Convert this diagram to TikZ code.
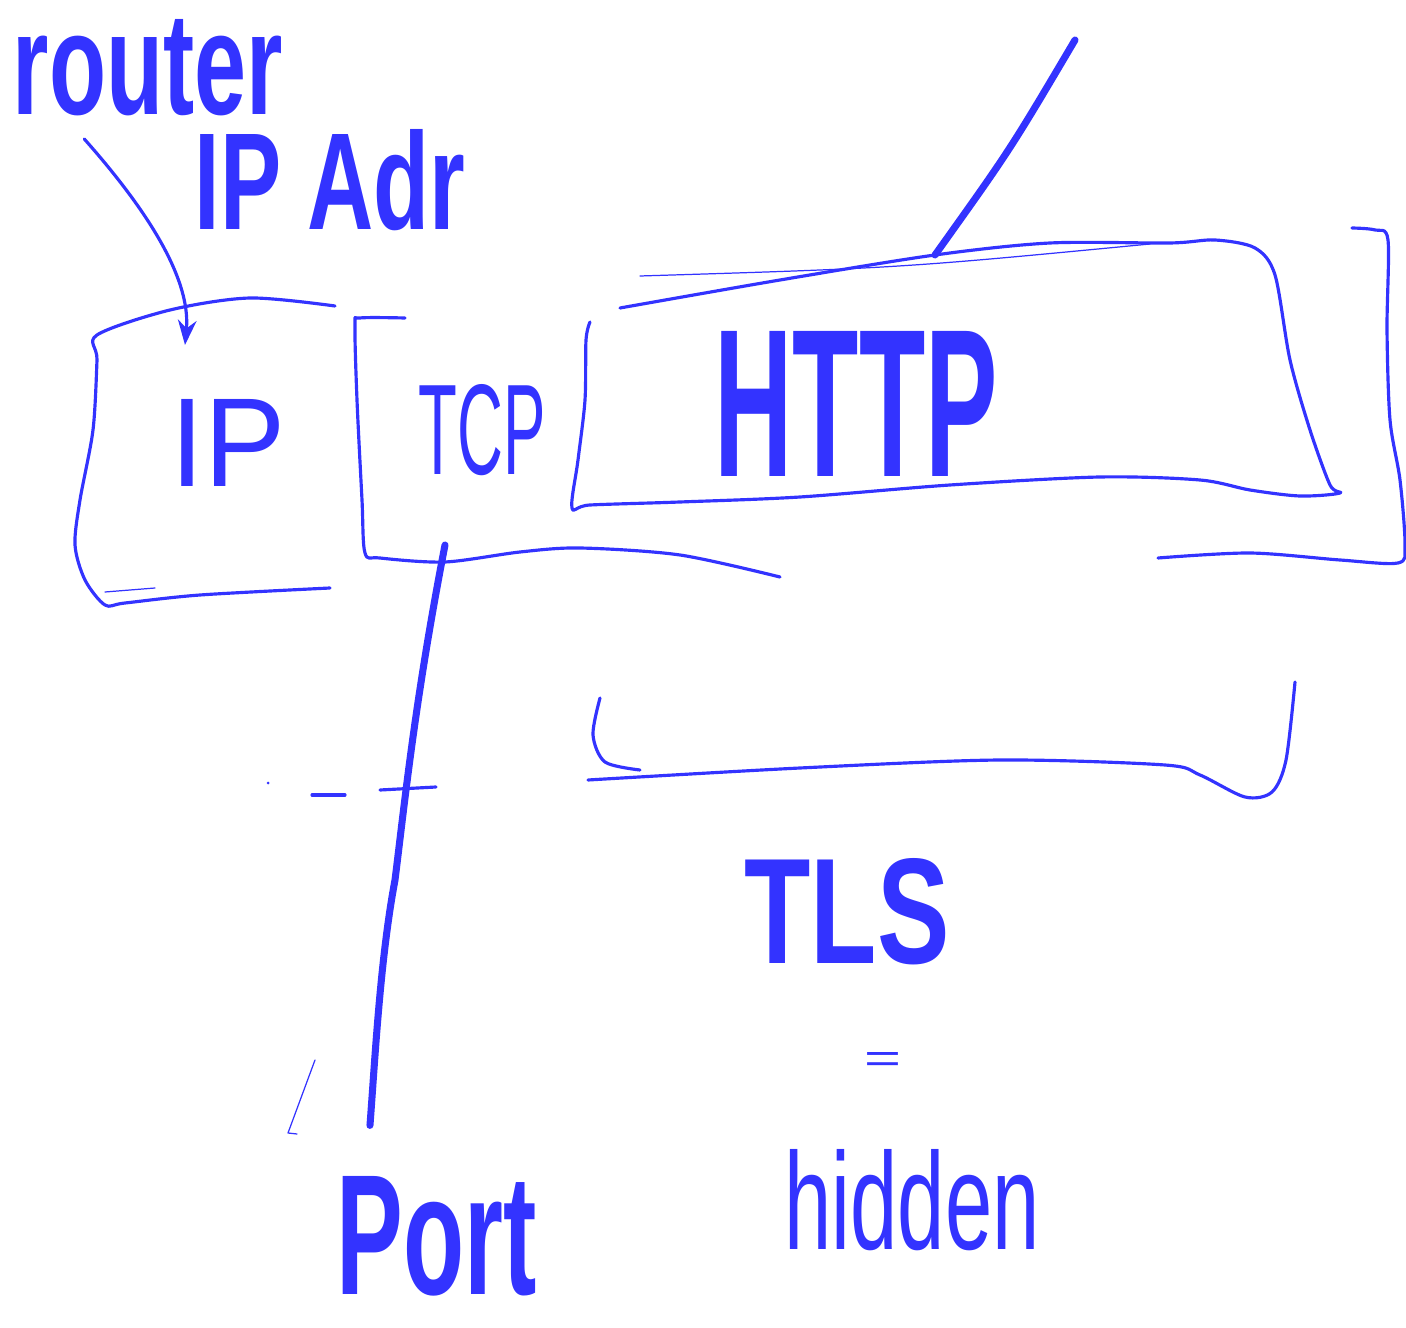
\documentclass[tikz,border=0pt]{standalone}
\usepackage{fontspec}
\setmainfont{Liberation Sans}
\usepackage{graphicx}
\usetikzlibrary{arrows.meta}
\definecolor{pen}{RGB}{51,51,255}
\newcommand{\scrawl}[3]{\resizebox{#1}{#2}{#3}}

\begin{document}
\begin{tikzpicture}[
    x = 0.01cm, y = -0.01cm,
    > = Stealth,
    line cap = round, line join = round,
    ink/.style={draw=pen, line width=0.9pt},
    thin ink/.style={draw=pen, line width=0.35pt},
    heavy ink/.style={draw=pen, line width=2pt},
    word/.style={text=pen, inner sep=0pt, font=\bfseries},
    lightword/.style={text=pen, inner sep=0pt}
]
    \useasboundingbox (0,0) rectangle (1406,1328);

    % labels
    \node[word] (router) at (148,68) {\scrawl{2.7cm}{0.95cm}{router}};
    \node[word] (ipadr) at (330,180) {\scrawl{2.7cm}{1.0cm}{IP Adr}};
    \node[lightword] (ip) at (228,443) {\scrawl{1.15cm}{0.87cm}{IP}};
    \node[lightword] (tcp) at (482,430) {\scrawl{1.27cm}{0.9cm}{TCP}};
    \node[word] (http) at (856,404) {\scrawl{2.83cm}{1.45cm}{HTTP}};
    \node[word] (tls) at (847,912) {\scrawl{2.05cm}{1.05cm}{TLS}};
    \node[lightword] (eq) at (883,1062) {\scrawl{0.37cm}{0.2cm}{=}};
    \node[lightword] (hidden) at (912,1200) {\scrawl{2.55cm}{1.0cm}{hidden}};
    \node[word] (port) at (437,1236) {\scrawl{2.0cm}{1.18cm}{Port}};

    % IP box
    \draw[ink] plot[smooth] coordinates {(335,306) (250,298) (170,310) (97,335)
        (97,360) (93,430) (80,500) (75,545) (85,580) (105,605) (125,603)
        (200,595) (330,588)};
    \draw[thin ink] (105,592) -- (155,588);

    % TCP box
    \draw[ink] plot[smooth] coordinates {(405,318) (360,318) (355,325) (357,400)
        (362,500) (365,553) (380,558) (445,562) (520,552) (580,548) (680,555)
        (780,577)};

    % HTTP box
    \draw[ink] plot[smooth] coordinates {(620,308) (780,280) (935,255) (1050,243)
        (1170,243) (1215,240) (1255,248) (1275,275) (1290,360) (1310,430)
        (1330,485) (1340,493) (1300,496) (1250,490) (1200,480) (1100,477)
        (950,485) (800,497) (680,502) (590,505) (572,508) (578,460) (585,400)
        (586,340) (590,322)};
    \draw[thin ink] (640,276) .. controls (900,268) .. (1150,244);
    \draw[heavy ink] (935,255) .. controls (1010,150) .. (1075,40);

    % outer bracket
    \draw[ink] plot[smooth] coordinates {(1352,228) (1375,230) (1388,240)
        (1387,330) (1390,420) (1400,480) (1405,545) (1398,563) (1340,560)
        (1250,553) (1158,558)};

    % TLS bracket
    \draw[ink] plot[smooth] coordinates {(600,698) (593,735) (605,762) (640,770)};
    \draw[ink] plot[smooth] coordinates {(588,780) (800,768) (1000,760) (1165,765)
        (1200,775) (1245,797) (1272,792) (1286,760) (1295,682)};

    % router arrow
    \coordinate (iptop) at (185,345);
    \draw[ink, ->] ([xshift=0.72cm, yshift=-0.22cm]router.south west)
        .. controls (165,230) and (190,290) .. (iptop);

    % port line
    \coordinate (tcpfoot) at (445,545);
    \draw[heavy ink] (tcpfoot) .. controls (415,700) and (405,800) .. (395,880)
        .. controls (380,960) and (375,1060) .. ([xshift=-0.67cm, yshift=0.5cm]port.north);
    \draw[ink] (380,790) -- (436,787);
    \draw[ink] (312,795) -- (345,795);
    \fill[pen] (268,783) circle (1.5);
    \draw[thin ink] (315,1060) -- (288,1133) -- (297,1134);
\end{tikzpicture}
\end{document}
